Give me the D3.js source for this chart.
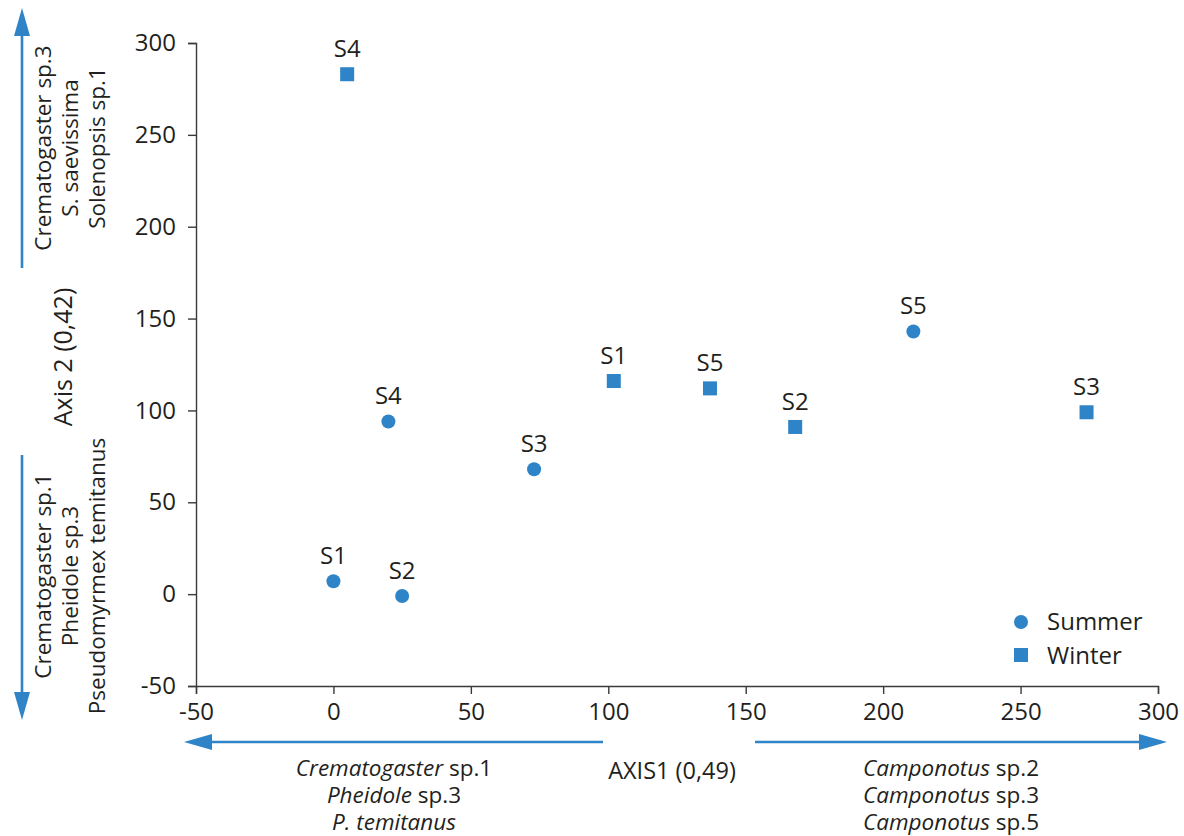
<!DOCTYPE html>
<html>
<head>
<meta charset="utf-8">
<script src="https://cdn.jsdelivr.net/npm/d3@7"></script>
<style>
  html, body { margin: 0; padding: 0; background: #ffffff; }
  svg { display: block; font-family: "Open Sans", "Noto Sans", sans-serif; }
  .tick text { fill: #231f20; }
</style>
</head>
<body>
<svg id="chart" width="1184" height="836"></svg>
<script>
// Site scores on the first two ordination axes, by season
const sites   = ["S1", "S2", "S3", "S4", "S5"];
const summerX = [0, 25, 73, 20, 211];
const summerY = [7, -1, 68, 94, 143];
const winterX = [102, 168, 274, 5, 137];
const winterY = [116, 91, 99, 283, 112];

const seasons = ["Summer", "Winter"];
const xTicks = [-50, 0, 50, 100, 150, 200, 250, 300];
const yTicks = [-50, 0, 50, 100, 150, 200, 250, 300];

const axis1Title = "AXIS1 (0,49)";
const axis2Title = "Axis 2 (0,42)";
// Species driving each end of the axes: [italic part, plain part]
const axis1Neg = [["Crematogaster", " sp.1"], ["Pheidole", " sp.3"], ["P. temitanus", ""]];
const axis1Pos = [["Camponotus", " sp.2"], ["Camponotus", " sp.3"], ["Camponotus", " sp.5"]];
const axis2Pos = ["Crematogaster sp.3", "S. saevissima", "Solenopsis sp.1"];
const axis2Neg = ["Crematogaster sp.1", "Pheidole sp.3", "Pseudomyrmex temitanus"];

const BLUE = "#2e84c6";
const INK = "#231f20";

const svg = d3.select("#chart");

const x = d3.scaleLinear().domain([-50, 300]).range([196, 1158]);
const y = d3.scaleLinear().domain([-50, 300]).range([686, 43]);

// Axes (plain hyphen for negative ticks)
const fmt = d => String(d);
const xAxis = svg.append("g")
  .attr("transform", `translate(0,${y(-50)})`)
  .call(d3.axisBottom(x).tickValues(xTicks).tickSize(8).tickPadding(9).tickFormat(fmt));
const yAxis = svg.append("g")
  .attr("transform", `translate(${x(-50)},0)`)
  .call(d3.axisLeft(y).tickValues(yTicks).tickSize(8).tickPadding(12).tickFormat(fmt));

[xAxis, yAxis].forEach(g => {
  g.select(".domain").attr("stroke", "#3a3a3a").attr("stroke-width", 1.4);
  g.selectAll(".tick line").attr("stroke", "#3a3a3a").attr("stroke-width", 1.4);
  g.selectAll(".tick text").attr("font-size", 24).attr("font-family", "Open Sans").attr("fill", INK);
});
xAxis.selectAll(".tick text").attr("dy", "0.71em");

// Points
const summer = sites.map((s, i) => ({ site: s, x: summerX[i], y: summerY[i] }));
const winter = sites.map((s, i) => ({ site: s, x: winterX[i], y: winterY[i] }));

const MS = 14; // marker size
svg.append("g").selectAll("circle").data(summer).join("circle")
  .attr("cx", d => x(d.x)).attr("cy", d => y(d.y)).attr("r", MS / 2).attr("fill", BLUE);
svg.append("g").selectAll("rect").data(winter).join("rect")
  .attr("x", d => x(d.x) - MS / 2).attr("y", d => y(d.y) - MS / 2)
  .attr("width", MS).attr("height", MS).attr("fill", BLUE);

// Site labels above each marker
svg.append("g").selectAll("text").data(summer.concat(winter)).join("text")
  .attr("x", d => x(d.x)).attr("y", d => y(d.y) - 17)
  .attr("text-anchor", "middle").attr("font-size", 24).attr("fill", INK)
  .text(d => d.site);

// Legend
const legend = svg.append("g");
legend.append("circle").attr("cx", 1021).attr("cy", 622).attr("r", MS / 2).attr("fill", BLUE);
legend.append("rect").attr("x", 1021 - MS / 2).attr("y", 655 - MS / 2).attr("width", MS).attr("height", MS).attr("fill", BLUE);
legend.selectAll("text").data(seasons).join("text")
  .attr("x", 1047).attr("y", (d, i) => 630 + i * 34)
  .attr("font-size", 24).attr("fill", INK).text(d => d);

// Direction arrows for the axes
function arrow(x1, y1, x2, y2) {
  const g = svg.append("g");
  const ang = Math.atan2(y2 - y1, x2 - x1);
  const L = 28, W = 8;
  const bx = x2 - L * Math.cos(ang), by = y2 - L * Math.sin(ang);
  g.append("line").attr("x1", x1).attr("y1", y1).attr("x2", bx).attr("y2", by)
    .attr("stroke", BLUE).attr("stroke-width", 2.6);
  const px = -Math.sin(ang) * W, py = Math.cos(ang) * W;
  g.append("path")
    .attr("d", `M${x2},${y2}L${bx + px},${by + py}L${bx - px},${by - py}Z`)
    .attr("fill", BLUE);
}
arrow(22, 268, 22, 8);
arrow(22, 455, 22, 720);
arrow(603, 742, 184, 742);
arrow(755, 742, 1167, 742);

// Axis 1 title and species lists under each arrow
svg.append("text").attr("x", 672).attr("y", 779).attr("text-anchor", "middle")
  .attr("font-size", 23.5).attr("fill", INK).text(axis1Title);

function speciesLine(ln, cx, by) {
  const t = svg.append("text").attr("x", cx).attr("y", by).attr("text-anchor", "middle")
    .attr("font-size", 22.5).attr("fill", INK);
  t.append("tspan").attr("font-style", "italic").text(ln[0]);
  if (ln[1]) t.append("tspan").text(ln[1]);
}
axis1Neg.forEach((ln, i) => speciesLine(ln, 394, 776 + i * 27));
axis1Pos.forEach((ln, i) => speciesLine(ln, 951, 776 + i * 27));

// Axis 2 title and rotated species lists beside each arrow
svg.append("text").attr("transform", "translate(72,357) rotate(-90)")
  .attr("text-anchor", "middle").attr("font-size", 25).attr("fill", INK).text(axis2Title);

function verticalBlock(lines, cy) {
  lines.forEach((ln, i) => {
    svg.append("text").attr("transform", `translate(${51 + i * 27},${cy}) rotate(-90)`)
      .attr("text-anchor", "middle").attr("font-size", 22.5).attr("fill", INK).text(ln);
  });
}
verticalBlock(axis2Pos, 148);
verticalBlock(axis2Neg, 576);
</script>
</body>
</html>
